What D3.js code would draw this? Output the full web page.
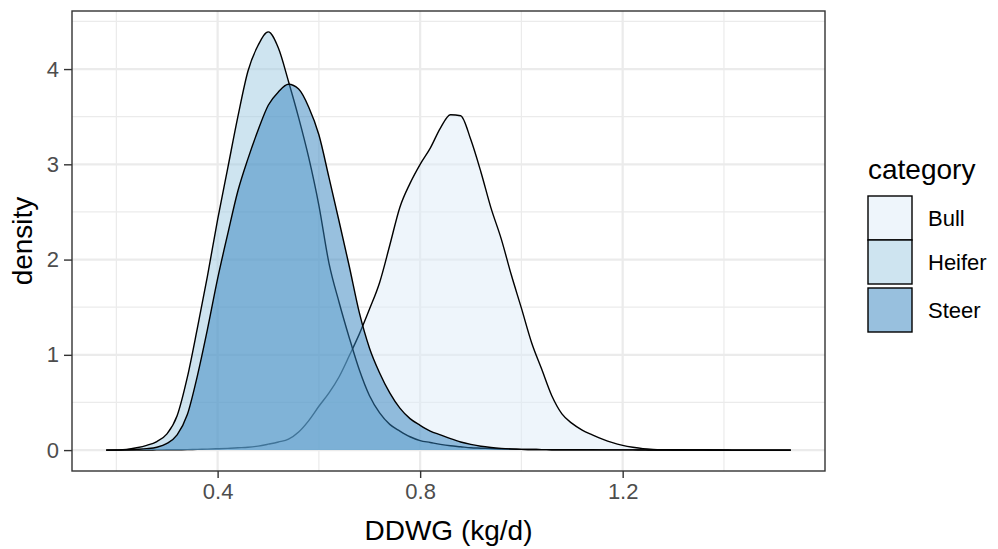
<!DOCTYPE html>
<html>
<head>
<meta charset="utf-8">
<script src="https://cdn.jsdelivr.net/npm/d3@7"></script>
<style>
  html, body { margin: 0; padding: 0; background: #fff; }
  svg { display: block; }
  text { font-family: "Liberation Sans", Arial, sans-serif; }
</style>
</head>
<body>
<svg id="chart" width="998" height="549"></svg>
<script>
// ---- data ----
const categories = ["Bull", "Heifer", "Steer"];
const fillColors = ["#DEEBF7", "#9ECAE1", "#3182BD"];
const xGrid = [0.18,0.20,0.22,0.24,0.26,0.28,0.30,0.32,0.34,0.36,0.38,0.40,0.42,0.44,0.46,0.48,0.50,0.52,0.54,0.56,0.58,0.60,0.62,0.64,0.66,0.68,0.70,0.72,0.74,0.76,0.78,0.80,0.82,0.84,0.86,0.88,0.90,0.92,0.94,0.96,0.98,1.00,1.02,1.04,1.06,1.08,1.10,1.12,1.14,1.16,1.18,1.20,1.22,1.24,1.26,1.28,1.30,1.32,1.34,1.36,1.38,1.40,1.42,1.44,1.46,1.48,1.50,1.52,1.532];
const bullDensity = [0,0,0,0,0,0.002,0.003,0.004,0.005,0.008,0.01,0.014,0.018,0.024,0.03,0.042,0.062,0.085,0.115,0.19,0.31,0.46,0.60,0.77,0.99,1.22,1.48,1.76,2.15,2.55,2.80,3.00,3.17,3.38,3.52,3.51,3.26,2.92,2.54,2.22,1.84,1.49,1.13,0.85,0.57,0.38,0.28,0.21,0.16,0.115,0.078,0.05,0.03,0.015,0.008,0.005,0.004,0.003,0.002,0.002,0.001,0.001,0,0,0,0,0,0,0];
const heiferDensity = [0,0.002,0.008,0.025,0.05,0.09,0.17,0.36,0.76,1.28,1.83,2.42,2.96,3.50,3.98,4.25,4.39,4.22,3.87,3.49,3.07,2.57,1.96,1.55,1.18,0.84,0.57,0.39,0.27,0.20,0.14,0.10,0.08,0.06,0.045,0.035,0.025,0.02,0.015,0.012,0.01,0.008,0.006,0.005,0.004,0.004,0.004,0.004,0.003,0.002,0.002,0.002,0.002,0.002,0.001,0.001,0.001,0.001,0.001,0.001,0,0,0,0,0,0,0,0,0];
const steerDensity = [0,0,0.003,0.008,0.015,0.03,0.07,0.16,0.37,0.78,1.27,1.80,2.27,2.72,3.06,3.36,3.62,3.76,3.84,3.79,3.60,3.31,2.86,2.40,1.93,1.44,1.07,0.81,0.60,0.44,0.33,0.26,0.20,0.16,0.12,0.085,0.06,0.04,0.027,0.018,0.012,0.008,0.006,0.005,0.004,0.003,0.003,0.003,0.002,0.002,0.002,0.002,0.002,0.001,0.001,0.001,0.001,0.001,0.001,0.001,0.001,0,0,0,0,0,0,0,0];
const xTicks = [0.4, 0.8, 1.2];
const xMinor = [0.2, 0.6, 1.0, 1.4];
const yTicks = [0, 1, 2, 3, 4];
const yMinor = [0.5, 1.5, 2.5, 3.5, 4.5];
const xTitle = "DDWG (kg/d)";
const yTitle = "density";
const legendTitle = "category";

const series = [bullDensity, heiferDensity, steerDensity];

// ---- layout ----
const svg = d3.select("#chart");
const P = { left: 72, right: 825, top: 11, bottom: 471 };

const xMinData = d3.min(xGrid), xMaxData = d3.max(xGrid);
const xr = xMaxData - xMinData;
const yMaxData = d3.max(series.flat());
const x = d3.scaleLinear()
  .domain([xMinData - 0.05 * xr, xMaxData + 0.05 * xr])
  .range([P.left, P.right]);
const y = d3.scaleLinear()
  .domain([-0.05 * yMaxData, yMaxData * 1.05])
  .range([P.bottom, P.top]);

// panel background
svg.append("rect").attr("x", P.left).attr("y", P.top)
  .attr("width", P.right - P.left).attr("height", P.bottom - P.top)
  .attr("fill", "#fff");

const grid = svg.append("g");
// minor grid
grid.selectAll(".xm").data(xMinor).join("line")
  .attr("x1", d => x(d)).attr("x2", d => x(d))
  .attr("y1", P.top).attr("y2", P.bottom)
  .attr("stroke", "#EBEBEB").attr("stroke-width", 1.2);
grid.selectAll(".ym").data(yMinor).join("line")
  .attr("y1", d => y(d)).attr("y2", d => y(d))
  .attr("x1", P.left).attr("x2", P.right)
  .attr("stroke", "#EBEBEB").attr("stroke-width", 1.2);
// major grid
grid.selectAll(".xM").data(xTicks).join("line")
  .attr("x1", d => x(d)).attr("x2", d => x(d))
  .attr("y1", P.top).attr("y2", P.bottom)
  .attr("stroke", "#EBEBEB").attr("stroke-width", 2.2);
grid.selectAll(".yM").data(yTicks).join("line")
  .attr("y1", d => y(d)).attr("y2", d => y(d))
  .attr("x1", P.left).attr("x2", P.right)
  .attr("stroke", "#EBEBEB").attr("stroke-width", 2.2);

// densities
const area = d3.area()
  .x((d, i) => x(xGrid[i]))
  .y0(y(0))
  .y1(d => y(d))
  .curve(d3.curveMonotoneX);
const line = d3.line()
  .x((d, i) => x(xGrid[i]))
  .y(d => y(d))
  .curve(d3.curveMonotoneX);

const marks = svg.append("g");
series.forEach((s, k) => {
  marks.append("path").datum(s)
    .attr("d", area)
    .attr("fill", fillColors[k]).attr("fill-opacity", 0.5);
  marks.append("path").datum(s)
    .attr("d", line)
    .attr("fill", "none").attr("stroke", "#000").attr("stroke-width", 1.4);
});

// panel border
svg.append("rect").attr("x", P.left).attr("y", P.top)
  .attr("width", P.right - P.left).attr("height", P.bottom - P.top)
  .attr("fill", "none").attr("stroke", "#333333").attr("stroke-width", 1.4);

// axes
const xAxis = d3.axisBottom(x).tickValues(xTicks).tickSize(7).tickPadding(5)
  .tickFormat(d3.format(".1f"));
const gx = svg.append("g").attr("transform", `translate(0,${P.bottom})`).call(xAxis);
gx.select(".domain").remove();
gx.selectAll(".tick line").attr("stroke", "#333333").attr("stroke-width", 1.4);
gx.selectAll(".tick text").attr("fill", "#4D4D4D")
  .style("font-family", "Liberation Sans, Arial, sans-serif").style("font-size", "22px");

const yAxis = d3.axisLeft(y).tickValues(yTicks).tickSize(8).tickPadding(5)
  .tickFormat(d3.format("d"));
const gy = svg.append("g").attr("transform", `translate(${P.left},0)`).call(yAxis);
gy.select(".domain").remove();
gy.selectAll(".tick line").attr("stroke", "#333333").attr("stroke-width", 1.4);
gy.selectAll(".tick text").attr("fill", "#4D4D4D")
  .style("font-family", "Liberation Sans, Arial, sans-serif").style("font-size", "22px");

// titles
svg.append("text").attr("x", (P.left + P.right) / 2).attr("y", 540)
  .attr("text-anchor", "middle").style("font-size", "28px").attr("fill", "#000")
  .text(xTitle);
svg.append("text")
  .attr("transform", `translate(32,${(P.top + P.bottom) / 2}) rotate(-90)`)
  .attr("text-anchor", "middle").style("font-size", "28px").attr("fill", "#000")
  .text(yTitle);

// legend
const lg = svg.append("g");
lg.append("text").attr("x", 868).attr("y", 179).style("font-size", "28px")
  .attr("fill", "#000").text(legendTitle);
const keyTops = [196, 240, 288];
categories.forEach((c, k) => {
  lg.append("rect").attr("x", 868).attr("y", keyTops[k])
    .attr("width", 44).attr("height", 44)
    .attr("fill", "#fff");
  lg.append("rect").attr("x", 868).attr("y", keyTops[k])
    .attr("width", 44).attr("height", 44)
    .attr("fill", fillColors[k]).attr("fill-opacity", 0.5)
    .attr("stroke", "#000").attr("stroke-width", 1.4);
  lg.append("text").attr("x", 928).attr("y", keyTops[k] + 22)
    .attr("dominant-baseline", "central").style("font-size", "22px")
    .attr("fill", "#000").text(c);
});
</script>
</body>
</html>
